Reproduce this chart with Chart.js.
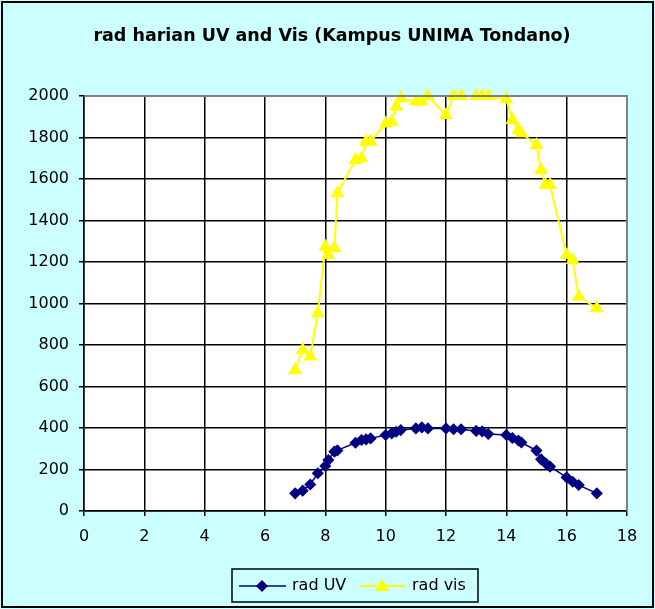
<!DOCTYPE html>
<html lang="en">
<head>
    <meta charset="UTF-8">
    <title>rad harian UV and Vis</title>
    <script src="https://cdn.jsdelivr.net/npm/chart.js"></script>
    <style>
        body { margin: 0; background: #fff; }
        #wrap { width: 655px; height: 609px; }
    </style>
</head>
<body>
    <div id="wrap"><canvas id="radChart" width="655" height="609"></canvas></div>

    <script>
// hour of day (decimal) for each reading
const hours = [7.0, 7.25, 7.5, 7.75, 8.0, 8.1, 8.3, 8.4, 9.0, 9.2, 9.35, 9.5, 10.0, 10.2, 10.35, 10.5,
               11.0, 11.2, 11.4, 12.0, 12.25, 12.5, 13.0, 13.2, 13.4, 14.0, 14.2, 14.4, 14.5,
               15.0, 15.15, 15.3, 15.45, 16.0, 16.2, 16.4, 17.0];
const radUV = [85, 98, 128, 182, 217, 246, 286, 292, 329, 342, 345, 350, 366, 374, 382, 390,
               398, 403, 398, 398, 394, 394, 386, 384, 371, 366, 352, 340, 330,
               291, 249, 230, 214, 162, 141, 125, 85];
const radVis = [680, 776, 744, 953, 1274, 1234, 1267, 1531, 1692, 1700, 1780, 1780, 1868, 1876, 1948, 1989,
                1973, 1973, 2000, 1908, 2000, 2000, 2000, 2000, 2000, 1984, 1884, 1836, 1820,
                1764, 1643, 1571, 1571, 1234, 1210, 1033, 977];
const xTicks = [0, 2, 4, 6, 8, 10, 12, 14, 16, 18];
const yTicks = [0, 200, 400, 600, 800, 1000, 1200, 1400, 1600, 1800, 2000];
const chartTitle = 'rad harian UV and Vis (Kampus UNIMA Tondano)';

const FONT = '"DejaVu Sans", Verdana, sans-serif';
const toPoints = (ys) => ys.map((y, i) => ({ x: hours[i], y: y }));

// background, frame, title and the boxed legend like the Excel original
const excelLook = {
  id: 'excelLook',
  beforeDraw(chart) {
    const c = chart.ctx, a = chart.chartArea;
    c.save();
    c.fillStyle = '#ccffff';
    c.fillRect(0, 0, chart.width, chart.height);
    c.strokeStyle = '#000';
    c.lineWidth = 2;
    c.strokeRect(2, 2, chart.width - 4, chart.height - 4);
    c.fillStyle = '#fff';
    c.fillRect(a.left, a.top, a.right - a.left, a.bottom - a.top);
    c.fillStyle = '#000';
    c.font = 'bold 17.5px ' + FONT;
    c.textAlign = 'center';
    c.textBaseline = 'middle';
    c.fillText(chartTitle, 332, 36);
    c.restore();
  },
  afterDraw(chart) {
    const c = chart.ctx, a = chart.chartArea;
    c.save();
    c.strokeStyle = '#808080';
    c.lineWidth = 2;
    c.beginPath();
    c.moveTo(a.left, a.top); c.lineTo(a.right, a.top); c.lineTo(a.right, a.bottom);
    c.stroke();
    c.restore();
  },
  afterDatasetsDraw(chart) {
    const c = chart.ctx;
    c.save();
    // legend box
    c.fillStyle = '#ccffff';
    c.fillRect(232, 569, 246, 33);
    c.strokeStyle = '#000';
    c.lineWidth = 1.5;
    c.strokeRect(232, 569, 246, 33);
    c.font = '16px ' + FONT;
    c.textBaseline = 'middle';
    c.textAlign = 'left';
    const cy = 586;
    chart.data.datasets.forEach((ds, i) => {
      const x0 = i === 0 ? 239 : 359;
      c.strokeStyle = ds.borderColor;
      c.lineWidth = ds.borderWidth;
      c.beginPath(); c.moveTo(x0, cy); c.lineTo(x0 + 47, cy); c.stroke();
      c.fillStyle = ds.pointBackgroundColor;
      c.beginPath();
      const mx = x0 + 23;
      if (i === 0) {
        c.moveTo(mx, cy - 6); c.lineTo(mx + 6, cy); c.lineTo(mx, cy + 6); c.lineTo(mx - 6, cy);
      } else {
        c.moveTo(mx, cy - 7); c.lineTo(mx + 7, cy + 5); c.lineTo(mx - 7, cy + 5);
      }
      c.closePath(); c.fill();
      c.fillStyle = '#000';
      c.fillText(ds.label, x0 + 53, cy);
    });
    c.restore();
  }
};

new Chart(document.getElementById('radChart'), {
  type: 'scatter',
  data: {
    datasets: [{
      label: 'rad UV',
      data: toPoints(radUV),
      showLine: true,
      clip: false,
      borderColor: '#000080',
      backgroundColor: '#000080',
      pointBackgroundColor: '#000080',
      pointBorderColor: '#000080',
      borderWidth: 1.5,
      pointStyle: 'rectRot',
      pointRadius: 5,
      tension: 0
    }, {
      label: 'rad vis',
      data: toPoints(radVis),
      showLine: true,
      clip: false,
      borderColor: '#ffff00',
      backgroundColor: '#ffff00',
      pointBackgroundColor: '#ffff00',
      pointBorderColor: '#ffff00',
      borderWidth: 2,
      pointStyle: 'triangle',
      pointRadius: 6,
      tension: 0
    }]
  },
  options: {
    responsive: false,
    animation: false,
    layout: { padding: { top: 96, left: 0, right: 28, bottom: 0 } },
    scales: {
      x: {
        type: 'linear',
        min: 0, max: 18,
        afterFit: (s) => { s.height = 98; },
        afterBuildTicks: (s) => { s.ticks = xTicks.map(v => ({ value: v })); },
        grid: { color: '#000', lineWidth: 1.5, drawTicks: true, tickLength: 5 },
        border: { color: '#000', width: 1.5 },
        ticks: { color: '#000', padding: 11, font: { family: FONT, size: 16 } }
      },
      y: {
        min: 0, max: 2000,
        afterFit: (s) => { s.width = 84; },
        afterBuildTicks: (s) => { s.ticks = yTicks.map(v => ({ value: v })); },
        grid: { color: '#000', lineWidth: 1.5, drawTicks: true, tickLength: 5 },
        border: { color: '#000', width: 1.5 },
        ticks: { color: '#000', padding: 10, callback: (v) => String(v), font: { family: FONT, size: 16 } }
      }
    },
    plugins: {
      legend: { display: false },
      title: { display: false },
      tooltip: { enabled: false }
    }
  },
  plugins: [excelLook]
});
    </script>
</body>
</html>
